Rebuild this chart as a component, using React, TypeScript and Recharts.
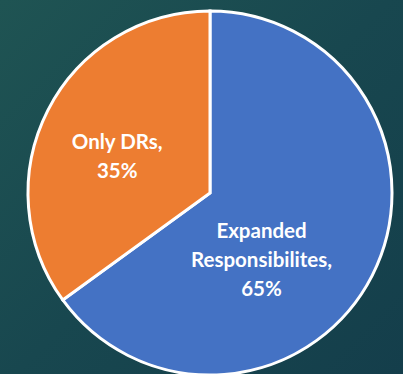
import { Cell, Pie, PieChart } from "recharts";

const categories = ["Expanded Responsibilites", "Only DRs"];
const shares = [65, 35];
const colors = ["#4472C4", "#ED7D31"];

// where each label block sits, as (angle in degrees, fraction of outer radius)
const labelSpots = [
  { angle: -52, radius: 0.46, lines: ["Expanded", "Responsibilites,"] },
  { angle: 158, radius: 0.55, lines: ["Only DRs,"] },
];

const data = categories.map((name, i) => ({ name, value: shares[i] }));

const RAD = Math.PI / 180;
const LINE_H = 29;

function renderLabel(props: any) {
  const { cx, cy, outerRadius, index, value } = props;
  const spot = labelSpots[index];
  const x = cx + Math.cos(spot.angle * RAD) * outerRadius * spot.radius;
  const y = cy - Math.sin(spot.angle * RAD) * outerRadius * spot.radius;
  const lines = [...spot.lines, `${value}%`];
  const top = y - ((lines.length - 1) * LINE_H) / 2;
  return (
    <text
      x={x}
      y={top}
      fill="#ffffff"
      textAnchor="middle"
      dominantBaseline="central"
      fontFamily="Lato, 'Open Sans', sans-serif"
      fontWeight={700}
      fontSize={20.5}
    >
      {lines.map((line, i) => (
        <tspan key={i} x={x} y={top + i * LINE_H}>
          {line}
        </tspan>
      ))}
    </text>
  );
}

export default function App() {
  return (
    <div
      style={{
        position: "fixed",
        left: 0,
        top: 0,
        width: 403,
        height: 374,
        background: "linear-gradient(135deg, #1f5453 0%, #18474f 50%, #143e4b 100%)",
      }}
    >
      <PieChart width={403} height={374} margin={{ top: 0, right: 0, bottom: 0, left: 0 }}>
        <Pie
          data={data}
          dataKey="value"
          nameKey="name"
          cx={210}
          cy={193}
          outerRadius={182}
          startAngle={90}
          endAngle={-270}
          stroke="#ffffff"
          strokeWidth={3}
          label={renderLabel}
          labelLine={false}
          isAnimationActive={false}
        >
          {data.map((d, i) => (
            <Cell key={d.name} fill={colors[i]} />
          ))}
        </Pie>
      </PieChart>
    </div>
  );
}
